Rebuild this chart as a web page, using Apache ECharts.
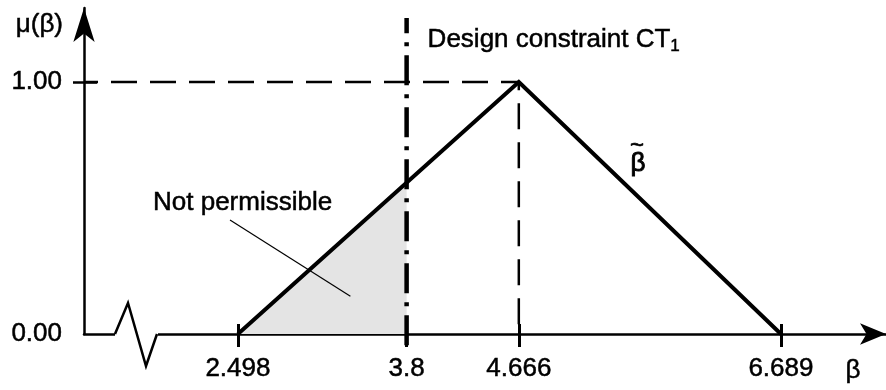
<!DOCTYPE html>
<html><head><meta charset="utf-8">
<script src="https://cdn.jsdelivr.net/npm/echarts@6/dist/echarts.min.js"></script>
<style>html,body{margin:0;padding:0;background:#fff}#c{width:886px;height:390px}</style>
</head><body><div id="c"></div>
<script>
// ---- data ----
const xTicks = [2.498, 3.8, 4.666, 6.689];
const xTickLabels = ['2.498', '3.8', '4.666', '6.689'];
const yTicks = [0, 1];
const yTickLabels = ['0.00', '1.00'];
const betaX = [2.498, 4.666, 6.689];
const betaMu = [0, 1, 0];
const constraintBeta = 3.8;

// ---- layout ----
const FONT = '"Liberation Sans", Arial, sans-serif';
const FS = 26;
const TB = 0.5; // slight text thickening
const GL = 84, GT = 8, GW = 802, GH = 326;
const BASE_Y = GT + GH;
const X_MIN = 1.31, X_MAX = 7.5;
const Y_MAX = GH / 252;

const muAtConstraint = betaMu[0] + (betaMu[1] - betaMu[0]) * (constraintBeta - betaX[0]) / (betaX[1] - betaX[0]);
const tri = betaX.map((x, i) => [x, betaMu[i]]);

const chart = echarts.init(document.getElementById('c'), null, {renderer: 'canvas'});
const lab = (vals, labels) => v => { const i = vals.findIndex(t => Math.abs(t - v) < 1e-9); return i >= 0 ? labels[i] : ''; };
const txt = (text, x, y, align, extra) => Object.assign({type: 'text', z: 60, style: Object.assign({
  text, x, y, align, verticalAlign: 'middle', font: FS + 'px ' + FONT, fill: '#000', stroke: '#000', lineWidth: TB}, extra || {})});

chart.setOption({
  animation: false,
  backgroundColor: '#fff',
  grid: {left: GL, top: GT, width: GW, height: GH, containLabel: false},
  xAxis: [{
    type: 'value', min: X_MIN, max: X_MAX, position: 'bottom',
    axisLine: {show: true, onZero: false, symbol: ['none', 'arrow'], symbolSize: [16, 26], lineStyle: {color: '#000', width: 2.5}},
    axisTick: {show: true, customValues: xTicks, length: 13, lineStyle: {color: '#000', width: 3}},
    axisLabel: {customValues: xTicks, formatter: lab(xTicks, xTickLabels), fontSize: FS, fontFamily: FONT, color: '#000', margin: 22,
      textBorderColor: '#000', textBorderWidth: TB},
    splitLine: {show: false}
  }, {
    type: 'value', min: X_MIN, max: X_MAX, position: 'bottom',
    axisLine: {show: false, onZero: false},
    axisTick: {show: true, inside: true, customValues: xTicks, length: 10, lineStyle: {color: '#000', width: 3}},
    axisLabel: {show: false},
    splitLine: {show: false}
  }],
  yAxis: [{
    type: 'value', min: 0, max: Y_MAX, position: 'left',
    axisLine: {show: true, onZero: false, symbol: ['none', 'arrow'], symbolSize: [16, 34], lineStyle: {color: '#000', width: 2.5}},
    axisTick: {show: true, customValues: [1], length: 11, lineStyle: {color: '#000', width: 2.5}},
    axisLabel: {customValues: yTicks, formatter: lab(yTicks, yTickLabels), fontSize: FS, fontFamily: FONT, color: '#000', margin: 22,
      textBorderColor: '#000', textBorderWidth: TB},
    splitLine: {show: false}
  }, {
    type: 'value', min: 0, max: Y_MAX, position: 'left',
    axisLine: {show: false, onZero: false},
    axisTick: {show: true, inside: true, customValues: [1], length: 13, lineStyle: {color: '#000', width: 2.5}},
    axisLabel: {show: false},
    splitLine: {show: false}
  }],
  series: [
    {type: 'line', data: [[betaX[0], betaMu[0]], [constraintBeta, muAtConstraint]], symbol: 'none',
     lineStyle: {width: 0, opacity: 0}, areaStyle: {color: '#e4e4e4', opacity: 1, origin: 'start'}, z: 1, silent: true},
    {type: 'line', data: [[X_MIN, betaMu[1]], [betaX[1], betaMu[1]], [betaX[1], 0]], symbol: 'none', clip: false,
     lineStyle: {color: '#000', width: 2.5, type: [26, 13], dashOffset: 12}, z: 2, silent: true},
    {type: 'line', data: tri, symbol: 'none', lineStyle: {color: '#000', width: 4, join: 'miter'}, z: 5, silent: true},
    {type: 'line', data: [[constraintBeta, -0.045], [constraintBeta, 1.254]], symbol: 'none', clip: false,
     lineStyle: {color: '#000', width: 4.5, type: [30, 9, 4, 9]}, z: 4, silent: true}
  ]
});

// annotations placed relative to the constraint line and the shaded area
const cPx = chart.convertToPixel({gridIndex: 0}, [constraintBeta, 0]);
const aPx = chart.convertToPixel({gridIndex: 0}, [(betaX[0] + constraintBeta * 2) / 3, muAtConstraint / 4]);
chart.setOption({
  graphic: [
    {type: 'rect', shape: {x: GL + 31, y: BASE_Y - 4, width: 43, height: 8}, style: {fill: '#fff'}, z: 100},
    {type: 'polyline', shape: {points: [[GL + 31, BASE_Y], [GL + 44, BASE_Y - 31], [GL + 62, BASE_Y + 32], [GL + 73, BASE_Y]]},
     style: {stroke: '#000', lineWidth: 2.5, fill: null}, z: 101},
    {type: 'line', shape: {x1: 230, y1: 220, x2: aPx[0], y2: aPx[1]}, style: {stroke: '#000', lineWidth: 1.2}, z: 50},
    txt('μ(β)', 63, 25, 'right'),
    txt('β', 853, 371, 'center'),
    txt('Not permissible', 153, 203, 'left'),
    txt('Design constraint CT{sub|1}', cPx[0] + 21, 40, 'left', {lineHeight: 30,
      rich: {sub: {fontSize: 17, fontFamily: FONT, fill: '#000', stroke: '#000', lineWidth: TB, verticalAlign: 'bottom', lineHeight: 17}}}),
    txt('β', 638, 164, 'center', {lineWidth: 0.9}),
    txt('~', 637, 146, 'center', {font: '24px ' + FONT, lineWidth: 0.6})
  ]
});
</script></body></html>
